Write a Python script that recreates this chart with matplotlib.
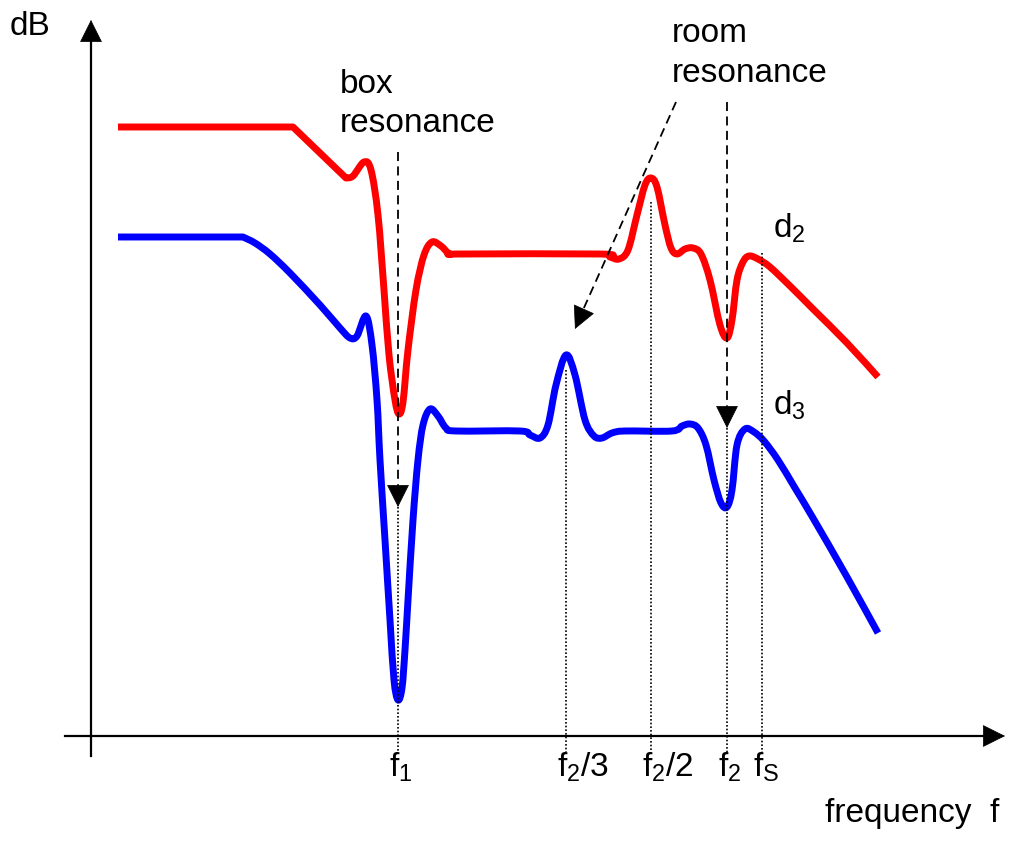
import numpy as np
import matplotlib
matplotlib.use("Agg")
import matplotlib.pyplot as plt
from matplotlib.path import Path
from matplotlib.patches import PathPatch

plt.rcParams['font.family'] = ['Liberation Sans', 'DejaVu Sans']
plt.rcParams['mathtext.fontset'] = 'custom'
plt.rcParams['mathtext.rm'] = 'Liberation Sans'
plt.rcParams['mathtext.it'] = 'Liberation Sans'

# sketch units: x = frequency (left -> right), y = level (top is loud)
# d2 response (red)
d2_x = [118, 293, 346, 353, 364, 371, 378, 384, 389, 395, 399, 403, 408, 416, 424, 432, 441, 450,
        462, 600, 610, 619, 628, 637, 645, 651, 657, 665, 671, 677, 685, 693, 701, 710, 720, 727,
        732, 737, 743, 749, 758, 770, 790, 813, 847, 878]
d2_y = [127, 127, 178, 176, 162, 170, 215, 290, 355, 400, 414, 402, 350, 290, 255, 242, 246, 254,
        254, 254, 257, 259, 250, 215, 185, 178, 187, 225, 248, 254, 249, 248, 254, 280, 325, 338,
        320, 280, 262, 256, 259, 267, 286, 309, 343, 377]
d2_corners = [1, 2]

# d3 response (blue)
d3_x = [118, 243, 255, 270, 290, 320, 340, 350, 357, 366, 372, 377, 380, 385, 390, 394, 398, 402,
        405, 408, 413, 418, 423, 430, 438, 446, 456, 520, 530, 540, 548, 556, 566, 575, 585, 594,
        602, 612, 625, 672, 682, 690, 698, 706, 714, 721, 727, 732, 737, 745, 754, 764, 778, 795,
        813, 847, 878]
d3_y = [237, 237, 243, 254, 273, 305, 328, 338, 336, 316, 345, 400, 460, 540, 620, 680, 700, 688,
        650, 600, 520, 460, 425, 409, 416, 428, 431, 431, 435, 438, 425, 385, 355, 375, 420, 436,
        438, 433, 431, 431, 426, 424, 428, 445, 480, 503, 507, 490, 445, 429, 432, 441, 460, 488,
        518, 577, 633]
d3_corners = [1]

# marked frequencies on the axis
tick_labels = ['$\\mathregular{f_1}$', '$\\mathregular{f_2/3}$', '$\\mathregular{f_2/2}$',
               '$\\mathregular{f_2}$', '$\\mathregular{f_S}$']
tick_x = [398, 566, 651, 727, 762]
tick_top = [507, 370, 202, 428, 253]


def smooth_path(xs, ys, corners):
    # Catmull-Rom runs turned into cubic Bezier pieces, broken at the corner points
    pts = np.column_stack([xs, ys]).astype(float)
    cuts = [0] + list(corners) + [len(pts) - 1]
    verts = [pts[0]]
    codes = [Path.MOVETO]
    for a, b in zip(cuts[:-1], cuts[1:]):
        run = pts[a:b + 1]
        p = np.vstack([run[0], run, run[-1]])
        for i in range(1, len(p) - 2):
            p0, p1, p2, p3 = p[i - 1], p[i], p[i + 1], p[i + 2]
            verts += [p1 + (p2 - p0) / 6, p2 - (p3 - p1) / 6, p2]
            codes += [Path.CURVE4] * 3
    return Path(verts, codes)


fig = plt.figure(figsize=(10.09, 8.41), dpi=100)
ax = fig.add_axes([0, 0, 1, 1])
ax.set_xlim(0, 1009)
ax.set_ylim(841, 0)
ax.axis('off')

# axes with arrow heads
ax.plot([65, 990], [736, 736], color='black', lw=1.6)
ax.plot([91, 91], [756, 38], color='black', lw=1.6)
head = dict(arrowstyle='-|>,head_length=15,head_width=7.5', color='black', lw=0.5,
            mutation_scale=1, shrinkA=0, shrinkB=0)
ax.annotate('', xy=(1005, 736), xytext=(985, 736), arrowprops=head)
ax.annotate('', xy=(91, 20), xytext=(91, 42), arrowprops=head)

# dotted guides down to the axis
for x, top in zip(tick_x, tick_top):
    ax.plot([x, x], [top, 752], color='black', lw=1.2, linestyle=(0, (1, 1.2)))

# response curves
ax.add_patch(PathPatch(smooth_path(d2_x, d2_y, d2_corners), fill=False, edgecolor='#ff0000',
                       lw=5, capstyle='butt', joinstyle='round'))
ax.add_patch(PathPatch(smooth_path(d3_x, d3_y, d3_corners), fill=False, edgecolor='#0000ff',
                       lw=5, capstyle='butt', joinstyle='round'))

# resonance arrows (dashed shaft + solid head)
dash = dict(color='black', lw=1.3, linestyle=(0, (5, 3)))
ax.plot([398, 398], [152, 490], **dash)
ax.annotate('', xy=(398, 507), xytext=(398, 486), arrowprops=head)
ax.plot([727, 727], [102, 412], **dash)
ax.annotate('', xy=(727, 428), xytext=(727, 408), arrowprops=head)
ax.plot([676, 583], [102, 310], **dash)
ax.annotate('', xy=(575, 329), xytext=(583.5, 310), arrowprops=head)

fs = 24
ax.text(10, 35, 'dB', fontsize=fs, ha='left', va='baseline')
ax.text(340, 93, 'box', fontsize=fs, ha='left', va='baseline')
ax.text(340, 132, 'resonance', fontsize=fs, ha='left', va='baseline')
ax.text(672, 42, 'room', fontsize=fs, ha='left', va='baseline')
ax.text(672, 82, 'resonance', fontsize=fs, ha='left', va='baseline')
ax.text(773, 238, '$\\mathregular{d_2}$', fontsize=fs, ha='left', va='baseline')
ax.text(773, 415, '$\\mathregular{d_3}$', fontsize=fs, ha='left', va='baseline')
for x, lab in zip(tick_x, tick_labels):
    ax.text(x - 9, 777, lab, fontsize=fs, ha='left', va='baseline')
ax.text(825, 822, 'frequency  f', fontsize=fs, ha='left', va='baseline')

plt.savefig('out.png', dpi=100)
